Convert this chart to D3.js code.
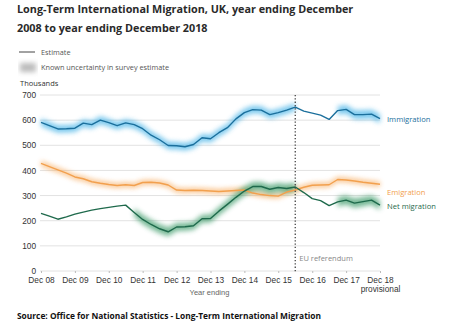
<!DOCTYPE html>
<html>
<head>
<meta charset="utf-8">
<script src="https://cdn.jsdelivr.net/npm/d3@7"></script>
<style>
  body { margin: 0; background: #fff; }
  svg { display: block; font-family: "Open Sans", sans-serif; }
  .axis text { font-family: "Liberation Sans", Arial, sans-serif; font-size: 8.3px; fill: #333; }
  .axis path { display: none; }
  .grid line { stroke: #e2e2e2; }
</style>
</head>
<body>
<svg id="chart" width="451" height="331"></svg>
<script>
// rolling year ending each quarter, Dec 08 .. Dec 18 (thousands)
var immigration = [591, 578, 565, 566, 568, 588, 582, 600, 590, 578, 589, 582, 566, 540, 522, 499,
  498, 494, 503, 530, 526, 550, 570, 605, 630, 642, 640, 622, 630, 640, 652, 636,
  628, 620, 603, 638, 643, 622, 622, 624, 606];
var emigration = [428, 415, 402, 389, 374, 367, 355, 349, 344, 340, 343, 340, 352, 353, 350, 342,
  322, 320, 321, 320, 318, 316, 318, 320, 322, 310, 304, 300, 298, 314, 322, 333,
  341, 342, 343, 364, 362, 358, 353, 349, 345];
var netMigration = [229, 218, 206, 215, 226, 234, 242, 248, 253, 258, 262, 233, 205, 185, 168, 156,
  175, 176, 180, 208, 209, 238, 265, 293, 318, 336, 336, 325, 332, 328, 334, 312,
  288, 280, 260, 275, 282, 270, 276, 282, 262];

// half-width of the survey uncertainty band, 0 where none is published
var immigrationCI = [15, 15, 15, 15, 15, 15, 15, 15, 15, 15, 15, 15, 15, 15, 15, 15,
  15, 15, 15, 15, 15, 15, 15, 15, 15, 15, 15, 15, 15, 15, 15, 0,
  0, 0, 0, 17, 17, 17, 17, 17, 17];
var emigrationCI = [10, 10, 10, 10, 10, 10, 10, 10, 10, 10, 10, 10, 10, 10, 10, 10,
  10, 10, 10, 10, 10, 10, 10, 10, 10, 10, 10, 10, 10, 10, 10, 10,
  10, 10, 10, 10, 10, 10, 10, 10, 10];
var netCI = [0, 0, 0, 0, 0, 0, 0, 0, 0, 0, 0, 16, 18, 18, 18, 18,
  16, 16, 16, 16, 16, 16, 16, 18, 18, 18, 18, 18, 18, 18, 18, 0,
  0, 0, 0, 18, 18, 18, 18, 18, 18];

var yTicks = [0, 100, 200, 300, 400, 500, 600, 700];
var xTickLabels = ["Dec 08", "Dec 09", "Dec 10", "Dec 11", "Dec 12", "Dec 13",
  "Dec 14", "Dec 15", "Dec 16", "Dec 17", "Dec 18"];

var quarters = immigration.map(function(d, i) { return new Date(2008, 11 + 3 * i, 1); });
var referendum = new Date(2016, 5, 1);

var svg = d3.select("#chart"),
    margin = {top: 95, right: 71, bottom: 60, left: 41},
    width = +svg.attr("width") - margin.left - margin.right,
    height = +svg.attr("height") - margin.top - margin.bottom;

var x = d3.scaleTime().domain([quarters[0], quarters[quarters.length - 1]]).range([0, width]),
    y = d3.scaleLinear().domain([0, 700]).range([height, 0]);

var defs = svg.append("defs");
defs.append("filter").attr("id", "haze")
    .attr("x", "-10%").attr("y", "-50%").attr("width", "120%").attr("height", "200%")
  .append("feGaussianBlur").attr("stdDeviation", 2.4);

// title
var title = svg.append("text")
    .attr("x", 17)
    .attr("font-size", "10.8px")
    .attr("font-weight", "bold")
    .attr("fill", "#2a2a2a");
title.append("tspan").attr("x", 17).attr("y", 13)
    .text("Long-Term International Migration, UK, year ending December");
title.append("tspan").attr("x", 17).attr("y", 32)
    .text("2008 to year ending December 2018");

// legend
var legend = svg.append("g").attr("font-size", "7.3px").attr("fill", "#555");
legend.append("line")
    .attr("x1", 19).attr("x2", 35).attr("y1", 52).attr("y2", 52)
    .attr("stroke", "#444").attr("stroke-width", 1);
legend.append("text").attr("x", 41).attr("y", 55).text("Estimate");
legend.append("rect")
    .attr("x", 20).attr("y", 63).attr("width", 16).attr("height", 9)
    .attr("fill", "#bbb").attr("filter", "url(#haze)");
legend.append("text").attr("x", 41).attr("y", 70).text("Known uncertainty in survey estimate");

svg.append("text")
    .attr("x", 20).attr("y", 86)
    .attr("font-size", "7.5px").attr("fill", "#333")
    .text("Thousands");

var g = svg.append("g")
    .attr("transform", "translate(" + margin.left + "," + margin.top + ")");

// gridlines
g.append("g")
    .attr("class", "grid")
    .selectAll("line")
    .data(yTicks)
    .enter().append("line")
      .attr("x1", -1).attr("x2", width)
      .attr("y1", function(d) { return y(d); })
      .attr("y2", function(d) { return y(d); });

g.append("g")
    .attr("class", "axis axis--y")
    .call(d3.axisLeft(y).tickValues(yTicks).tickSize(0).tickPadding(5));

var xTicks = xTickLabels.map(function(d, i) { return quarters[i * 4]; });
var xAxis = g.append("g")
    .attr("class", "axis axis--x")
    .attr("transform", "translate(0," + height + ")")
    .call(d3.axisBottom(x).tickValues(xTicks).tickSize(2).tickPadding(4)
      .tickFormat(function(d, i) { return xTickLabels[i]; }));
xAxis.selectAll("line").attr("stroke", "#bbb");
xAxis.selectAll(".tick").filter(function(d, i) { return i === xTicks.length - 1; })
  .select("text").append("tspan")
    .attr("x", 0).attr("dy", "1.1em").text("provisional");

g.append("text")
    .attr("x", x(quarters[20]) - 1)
    .attr("y", height + 24)
    .attr("text-anchor", "middle")
    .attr("font-family", "Liberation Sans, Arial, sans-serif")
    .attr("font-size", "7.5px")
    .attr("fill", "#666")
    .text("Year ending");

var series = [
  {name: "Immigration", values: immigration, ci: immigrationCI, line: "#1b6f9c", band: "#3fb0e6", labelY: 121.5},
  {name: "Emigration", values: emigration, ci: emigrationCI, line: "#f2a04e", band: "#f7a95a", labelY: 195},
  {name: "Net migration", values: netMigration, ci: netCI, line: "#1f6a4c", band: "#3a9a68", labelY: 208.5}
];

var band = d3.area()
    .defined(function(d) { return d.ci > 0; })
    .x(function(d) { return x(d.date); })
    .y0(function(d) { return y(d.value - d.ci); })
    .y1(function(d) { return y(d.value + d.ci); });

var line = d3.line()
    .x(function(d) { return x(d.date); })
    .y(function(d) { return y(d.value); });

series.forEach(function(s) {
  var pts = s.values.map(function(v, i) { return {date: quarters[i], value: v, ci: s.ci[i]}; });
  g.append("path")
      .datum(pts)
      .attr("d", band)
      .attr("fill", s.band)
      .attr("opacity", 0.7)
      .attr("filter", "url(#haze)");
});

series.forEach(function(s) {
  var pts = s.values.map(function(v, i) { return {date: quarters[i], value: v}; });
  g.append("path")
      .datum(pts)
      .attr("d", line)
      .attr("fill", "none")
      .attr("stroke", s.line)
      .attr("stroke-width", 1.4)
      .attr("stroke-linejoin", "round");
  svg.append("text")
      .attr("x", 387)
      .attr("y", s.labelY)
      .attr("font-size", "7.6px")
      .attr("fill", s.line)
      .text(s.name);
});

// EU referendum marker
g.append("line")
    .attr("x1", x(referendum)).attr("x2", x(referendum))
    .attr("y1", 0).attr("y2", height + 1)
    .attr("stroke", "#444")
    .attr("stroke-width", 1.3)
    .attr("stroke-dasharray", "1.3,2");
g.append("text")
    .attr("x", x(referendum) + 4)
    .attr("y", y(40))
    .attr("font-size", "7.5px")
    .attr("fill", "#888")
    .text("EU referendum");

svg.append("text")
    .attr("x", 17).attr("y", 319)
    .attr("font-size", "8.4px")
    .attr("font-weight", "bold")
    .attr("fill", "#111")
    .text("Source: Office for National Statistics - Long-Term International Migration");
</script>
</body>
</html>
